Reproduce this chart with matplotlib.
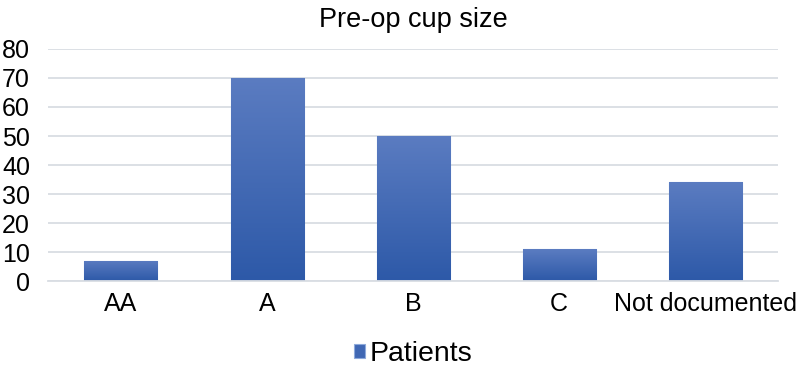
import matplotlib.pyplot as plt
import numpy as np
from matplotlib.colors import LinearSegmentedColormap

plt.rcParams['font.family'] = ['Liberation Sans', 'DejaVu Sans']

categories = ["AA", "A", "B", "C", "Not documented"]
patients = [7, 70, 50, 11, 34]
yticks = [0, 10, 20, 30, 40, 50, 60, 70, 80]

fig = plt.figure(figsize=(7.99, 3.68), dpi=100)
ax = fig.add_axes([0.060, 0.236, 0.914, 0.631])

x = np.arange(len(categories))
bars = ax.bar(x, patients, width=0.5, color="#4068b4", edgecolor="#8eaadb",
              linewidth=0.8, zorder=2, label="Patients")

# gradient fill, lighter at top
grad = LinearSegmentedColormap.from_list("g", ["#2d59a8", "#5b7cc1"])
g = np.linspace(0, 1, 256).reshape(-1, 1)
for b in bars:
    x0, y0 = b.get_x(), b.get_y()
    w, h = b.get_width(), b.get_height()
    im = ax.imshow(g, cmap=grad, origin="lower", aspect="auto",
                   extent=[x0, x0 + w, y0, y0 + h], zorder=2.5)
    im.set_clip_path(b)

ax.set_xlim(-0.5, len(categories) - 0.5)
ax.set_ylim(0, 80)
ax.set_yticks(yticks)
ax.set_xticks(x)
ax.set_xticklabels(categories)
ax.tick_params(axis="both", length=0, labelsize=18, colors="#000000")
ax.tick_params(axis="y", pad=13)
ax.tick_params(axis="x", pad=8)
ax.grid(axis="y", color="#d9dde3", linewidth=1.3, zorder=0)
for s in ["top", "right", "left"]:
    ax.spines[s].set_visible(False)
ax.spines["bottom"].set_color("#d9dde3")
ax.spines["bottom"].set_linewidth(1.3)

ax.set_title("Pre-op cup size", fontsize=19.5, pad=16)

leg = ax.legend(loc="center", bbox_to_anchor=(0.5, -0.315), frameon=False,
                fontsize=20.5, handlelength=0.4, handleheight=0.4,
                handletextpad=0.15, borderpad=0)

fig.savefig("out.png", dpi=100)
